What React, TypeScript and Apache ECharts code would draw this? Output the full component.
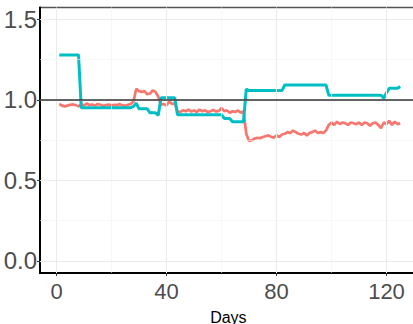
import React, { useEffect, useRef } from "react";
import * as echarts from "echarts";

const days: number[] = Array.from({ length: 125 }, (_, i) => i + 1);

const redValues: number[] = [
  0.975, 0.965, 0.96, 0.965, 0.97, 0.972, 0.968, 0.96, 0.975, 0.965,
  0.978, 0.968, 0.972, 0.965, 0.975, 0.97, 0.962, 0.968, 0.972, 0.965,
  0.97, 0.968, 0.974, 0.966, 0.963, 0.97, 0.975, 0.99, 1.07, 1.055,
  1.05, 1.055, 1.035, 1.04, 1.06, 1.05, 1.02, 0.97, 0.975, 0.965,
  0.99, 0.975, 0.98, 0.93, 0.925, 0.935, 0.93, 0.94, 0.928, 0.935,
  0.925, 0.94, 0.93, 0.935, 0.925, 0.93, 0.938, 0.928, 0.932, 0.95,
  0.93, 0.935, 0.92, 0.93, 0.925, 0.935, 0.92, 0.93, 0.79, 0.745,
  0.75, 0.76, 0.765, 0.762, 0.77, 0.775, 0.78, 0.772, 0.765, 0.78,
  0.77, 0.785, 0.79, 0.8, 0.795, 0.81, 0.8, 0.79, 0.785, 0.795,
  0.78, 0.795, 0.8, 0.81, 0.795, 0.8, 0.795, 0.81, 0.845, 0.86,
  0.845, 0.865, 0.85, 0.86, 0.855, 0.845, 0.86, 0.855, 0.85, 0.86,
  0.845, 0.86, 0.855, 0.84, 0.855, 0.86, 0.845, 0.825, 0.86, 0.85,
  0.87, 0.845, 0.865, 0.85, 0.855,
];

const tealValues: number[] = [
  1.28, 1.28, 1.28, 1.28, 1.28, 1.28, 1.28, 1.28, 0.952, 0.952,
  0.952, 0.952, 0.952, 0.952, 0.952, 0.952, 0.952, 0.952, 0.952, 0.952,
  0.952, 0.952, 0.952, 0.952, 0.952, 0.952, 0.952, 0.96, 0.98, 0.945,
  0.945, 0.945, 0.945, 0.92, 0.92, 0.92, 0.905, 1.013, 1.013, 1.013,
  1.013, 1.013, 1.013, 0.908, 0.908, 0.908, 0.908, 0.908, 0.908, 0.908,
  0.908, 0.908, 0.908, 0.908, 0.908, 0.908, 0.908, 0.908, 0.908, 0.908,
  0.885, 0.885, 0.885, 0.865, 0.865, 0.865, 0.865, 0.865, 1.068, 1.058,
  1.058, 1.058, 1.058, 1.058, 1.058, 1.058, 1.058, 1.058, 1.058, 1.058,
  1.058, 1.058, 1.093, 1.093, 1.093, 1.093, 1.093, 1.093, 1.093, 1.093,
  1.093, 1.093, 1.093, 1.093, 1.093, 1.093, 1.093, 1.093, 1.03, 1.03,
  1.03, 1.03, 1.03, 1.03, 1.03, 1.03, 1.03, 1.03, 1.03, 1.03,
  1.03, 1.03, 1.03, 1.03, 1.03, 1.03, 1.03, 1.03, 1.01, 1.045,
  1.073, 1.073, 1.073, 1.073, 1.083,
];

const xTicks: number[] = [0, 40, 80, 120];
const xMinorGrid: number[] = [20, 60, 100];
const yTicks: number[] = [0, 0.5, 1, 1.5];
const yMinorGrid: number[] = [0.25, 0.75, 1.25];
const refLine = 1;

const FONT = "'Liberation Sans Narrow', 'Liberation Sans', Arial, sans-serif";

export default function App() {
  const ref = useRef<HTMLDivElement>(null);
  useEffect(() => {
    if (!ref.current) return;
    const chart = echarts.init(ref.current, null, { renderer: "svg" });
    const redData = days.map((d, i) => [d, redValues[i]]);
    const tealData = days.map((d, i) => [d, tealValues[i]]);
    const major = { color: "#ebebeb", width: 1.1, type: "solid" };
    const minor = { color: "#f4f4f4", width: 0.6, type: "solid" };
    const gridLines = [
      ...xTicks.map((v) => ({ xAxis: v, lineStyle: major })),
      ...xMinorGrid.map((v) => ({ xAxis: v, lineStyle: minor })),
      ...yTicks.map((v) => ({ yAxis: v, lineStyle: major })),
      ...yMinorGrid.map((v) => ({ yAxis: v, lineStyle: minor })),
    ];
    chart.setOption({
      animation: false,
      backgroundColor: "#ffffff",
      grid: {
        left: 40,
        top: 7.4,
        width: 376.75,
        height: 265.6,
        show: true,
        borderColor: "#555555",
        borderWidth: 1.5,
        containLabel: false,
        outerBoundsMode: "none",
      },
      xAxis: {
        type: "value",
        min: -6,
        max: 131,
        name: "Days",
        nameLocation: "middle",
        nameGap: 36,
        nameTextStyle: { fontFamily: FONT, fontSize: 16, color: "#000000" },
        axisLine: { show: true, onZero: false, lineStyle: { color: "#000000", width: 2 } },
        axisTick: { show: true, customValues: xTicks, length: 3, lineStyle: { color: "#333333", width: 1 } },
        axisLabel: {
          customValues: xTicks,
          fontFamily: FONT,
          fontSize: 22,
          color: "#4d4d4d",
          margin: 7,
        },
        splitLine: { show: false },
      },
      yAxis: {
        type: "value",
        min: -0.075,
        max: 1.575,
        axisLine: { show: true, onZero: false, lineStyle: { color: "#000000", width: 2 } },
        axisTick: { show: true, customValues: yTicks, length: 3, lineStyle: { color: "#333333", width: 1 } },
        axisLabel: {
          customValues: yTicks,
          formatter: (v: number) => v.toFixed(1),
          fontFamily: FONT,
          fontSize: 24,
          color: "#4d4d4d",
          margin: 3,
        },
        splitLine: { show: false },
      },
      series: [
        {
          type: "line",
          data: [],
          silent: true,
          z: 0,
          markLine: {
            silent: true,
            symbol: "none",
            label: { show: false },
            data: gridLines,
          },
        },
        {
          type: "line",
          data: [],
          silent: true,
          z: 1,
          markLine: {
            silent: true,
            symbol: "none",
            label: { show: false },
            lineStyle: { color: "#333333", width: 1.6, type: "solid" },
            data: [{ yAxis: refLine }],
          },
        },
        {
          name: "red",
          type: "line",
          data: redData,
          showSymbol: false,
          z: 3,
          lineStyle: { color: "#F8766D", width: 2.7 },
          itemStyle: { color: "#F8766D" },
        },
        {
          name: "teal",
          type: "line",
          data: tealData,
          showSymbol: false,
          z: 4,
          lineStyle: { color: "#00BFC4", width: 3 },
          itemStyle: { color: "#00BFC4" },
        },
      ],
    });
    return () => chart.dispose();
  }, []);
  return <div ref={ref} style={{ width: 413, height: 324, position: "absolute", left: 0, top: 0 }} />;
}
